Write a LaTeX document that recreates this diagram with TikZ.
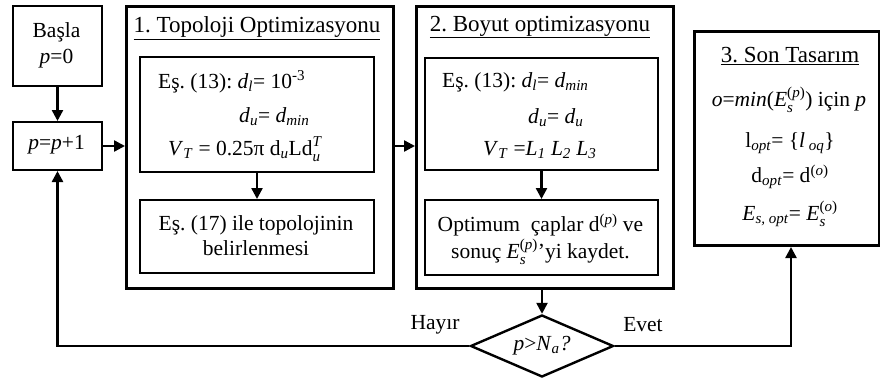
\documentclass[tikz,border=0pt]{standalone}
\usepackage{fontspec}
\setmainfont{Liberation Serif}
\usetikzlibrary{arrows.meta,shapes.geometric}
\frenchspacing
\newcommand{\ii}[1]{\textit{#1}}
\newcommand{\sbs}[1]{\textsubscript{\ii{#1}}}
\newcommand{\sps}[1]{\textsuperscript{#1}}
\newcommand{\supsub}[2]{\rlap{\raisebox{-0.12em}{\textsubscript{\ii{#1}}}}\raisebox{0.08em}{\textsuperscript{#2}}}
\tikzset{
  bigbox/.style={draw, line width=3pt, anchor=north west, inner sep=0pt},
  smallbox/.style={draw, line width=2pt, anchor=north west, inner sep=0pt},
  txt/.style={inner sep=0pt, font=\fontsize{21.5}{25}\selectfont},
  ttl/.style={inner sep=0pt, font=\fontsize{23}{26}\selectfont},
  arr/.style={line width=2.4pt, -{Triangle[length=11pt,width=11pt]}},
}
\begin{document}
\begin{tikzpicture}[x=1pt,y=-1pt]
\useasboundingbox (0,0) rectangle (880,381);
% boxes
\node[smallbox, minimum width=89pt, minimum height=80pt] (basla) at (12,5) {};
\node[smallbox, minimum width=89pt, minimum height=48pt] (pp1) at (12,121) {};
\node[bigbox, minimum width=267pt, minimum height=282pt] (box1) at (125,5) {};
\node[smallbox, minimum width=234pt, minimum height=115pt] (b1a) at (139,56) {};
\node[smallbox, minimum width=234pt, minimum height=73pt] (b1b) at (139,199) {};
\node[bigbox, minimum width=257pt, minimum height=282pt] (box2) at (415,5) {};
\node[smallbox, minimum width=233pt, minimum height=112pt] (b2a) at (424,57) {};
\node[smallbox, minimum width=233pt, minimum height=75pt] (b2b) at (424,199) {};
\node[bigbox, minimum width=185pt, minimum height=214pt] (box3) at (693,30) {};
\node[draw, diamond, line width=2.4pt, inner sep=0pt, minimum width=143pt, minimum height=62pt] (dia) at (542,346) {};
% texts
\node[txt, align=center] (tbasla) at (56.5,45) {Başla\\[1pt]\ii{p}=0};
\node[txt] (tpp1) at (56.5,145) {\ii{p}=\ii{p}+1};
\node[ttl] (t1) at (257,28) {\underline{1. Topoloji Optimizasyonu}};
\node[txt, anchor=west] (t1a1) at (158,82) {Eş. (13): \ii{d}\sbs{l}= 10\sps{-3}};
\node[txt, anchor=west] (t1a2) at (239,117) {\ii{d}\sbs{u}= \ii{d}\sbs{min}};
\node[txt, anchor=west] (t1a3) at (168,149) {\ii{V}\sbs{T} = 0.25π d\sbs{u}Ld\supsub{u}{\ii{T}}};
\node[txt, align=center] (t1b) at (256,236) {Eş. (17) ile topolojinin\\belirlenmesi};
\node[ttl] (t2) at (540,27) {\underline{2. Boyut optimizasyonu}};
\node[txt, anchor=west] (t2a1) at (442,82) {Eş. (13): \ii{d}\sbs{l}= \ii{d}\sbs{min}};
\node[txt, anchor=west] (t2a2) at (528,118) {\ii{d}\sbs{u}= \ii{d}\sbs{u}};
\node[txt, anchor=west] (t2a3) at (483,150) {\ii{V}\sbs{T} =\ii{L}\sbs{1} \ii{L}\sbs{2} \ii{L}\sbs{3}};
\node[txt, align=center] (t2b) at (540.5,239) {Optimum \ çaplar d\sps{(\ii{p})} ve\\[2pt]sonuç \ii{E}\supsub{s}{(\ii{p})}’yi kaydet.};
\node[ttl] (t3) at (790,56) {\underline{3. Son Tasarım}};
\node[txt] (t3a) at (789,100) {\ii{o}=\ii{min}(\ii{E}\supsub{s}{(\ii{p})}) için \ii{p}};
\node[txt] (t3b) at (790,143) {l\sbs{opt}= \{\ii{l}\,\sbs{oq}\}};
\node[txt] (t3c) at (790,177) {d\sbs{opt}= d\sps{(\ii{o})}};
\node[txt] (t3d) at (790,214) {\ii{E}\sbs{s, opt}= \ii{E}\supsub{s}{(\ii{o})}};
\node[txt] (tdia) at (542,346) {\ii{p}>\ii{N}\sbs{a}\ii{?}};
\node[txt] (hayir) at (435,325) {Hayır};
\node[txt] (evet) at (643,325) {Evet};
% connectors
\draw[arr] (basla.south) -- (pp1.north);
\draw[arr] (pp1.east) -- (pp1.east -| box1.west);
\draw[arr] (box1.east |- pp1.east) -- (pp1.east -| box2.west);
\draw[arr] (b1a.south) -- (b1b.north);
\draw[arr] (b2a.south) -- (b2b.north);
\draw[arr] (box2.south -| dia.north) -- (dia.north);
\draw[arr] (dia.west) -| (pp1.south);
\coordinate (e3) at ([xshift=4pt]box3.south);
\draw[arr] (dia.east) -| (e3);
\end{tikzpicture}
\end{document}
